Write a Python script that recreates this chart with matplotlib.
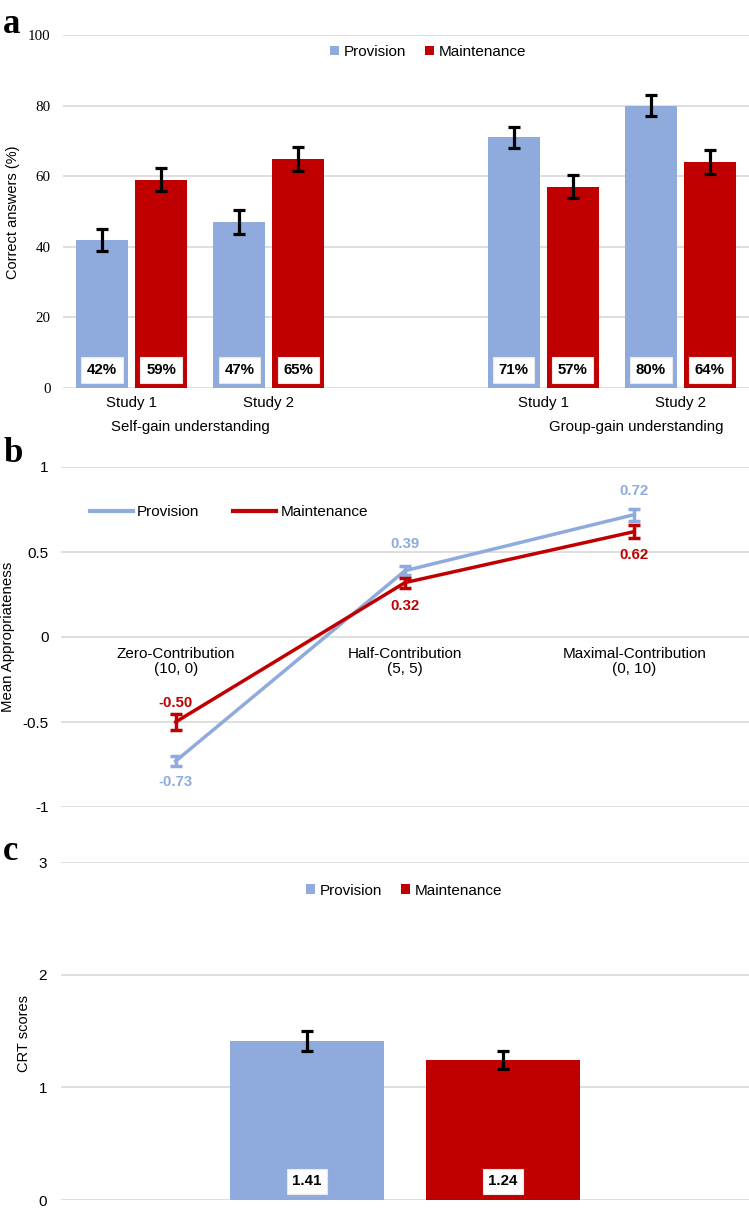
import numpy as np
import matplotlib
matplotlib.use('Agg')
import matplotlib.pyplot as plt
from matplotlib.lines import Line2D
import matplotlib.transforms as mtransforms

plt.rcParams['font.family'] = ['Liberation Sans', 'DejaVu Sans']

BLUE = '#8FAADC'
RED = '#C00000'
GRID = '#D9D9D9'

# ---- datos panel a ----
studies = ['Study 1', 'Study 2', 'Study 1', 'Study 2']
groups = ['Self-gain understanding', 'Group-gain understanding']
prov_a = [42, 47, 71, 80]
maint_a = [59, 65, 57, 64]
prov_a_err = [3.1, 3.5, 3.0, 3.0]
maint_a_err = [3.2, 3.4, 3.2, 3.5]

# ---- datos panel b ----
contrib = ['Zero-Contribution\n(10, 0)', 'Half-Contribution\n(5, 5)',
           'Maximal-Contribution\n(0, 10)']
prov_b = [-0.73, 0.39, 0.72]
maint_b = [-0.50, 0.32, 0.62]
prov_b_err = [0.03, 0.025, 0.035]
maint_b_err = [0.045, 0.03, 0.04]

# ---- datos panel c ----
crt = [1.41, 1.24]
crt_err = [0.09, 0.08]

W, H = 749, 1208
fig = plt.figure(figsize=(W / 100, H / 100), dpi=100)


def px_axes(x0, y0, x1, y1):
    # caja en pixeles (origen arriba-izquierda)
    return fig.add_axes([x0 / W, 1 - y1 / H, (x1 - x0) / W, (y1 - y0) / H])


def style(ax):
    for s in ax.spines.values():
        s.set_visible(False)
    ax.yaxis.grid(True, color=GRID, lw=1.2)
    ax.set_axisbelow(True)
    ax.tick_params(length=0)


box = dict(boxstyle='square,pad=0.38', fc='white', ec='#E8E8E8', lw=0.8)
ekw = dict(elinewidth=2.3, capthick=2.3, ecolor='black')

# =================== panel a ===================
ax_a = px_axes(63, 35, 749, 388)
style(ax_a)
xpos = np.array([0, 1, 3, 4])
w, off = 0.38, 0.215
ax_a.bar(xpos - off, prov_a, w, color=BLUE, yerr=prov_a_err, capsize=4.5,
         error_kw=ekw, label='Provision', zorder=3)
ax_a.bar(xpos + off, maint_a, w, color=RED, yerr=maint_a_err, capsize=4.5,
         error_kw=ekw, label='Maintenance', zorder=3)
for x, v in zip(xpos - off, prov_a):
    ax_a.text(x, 5.1, f'{v}%', ha='center', va='center', fontsize=10.8,
              fontweight='bold', bbox=box, zorder=5)
for x, v in zip(xpos + off, maint_a):
    ax_a.text(x, 5.1, f'{v}%', ha='center', va='center', fontsize=10.8,
              fontweight='bold', bbox=box, zorder=5)
ax_a.set_xlim(-0.5, 4.5)
ax_a.set_ylim(0, 100)
ax_a.set_yticks(range(0, 101, 20))
ax_a.set_yticklabels([str(v) for v in range(0, 101, 20)],
                     family='Liberation Serif', fontsize=10.8)
ax_a.tick_params(axis='y', pad=9)
ax_a.set_xticks(xpos)
ax_a.set_xticklabels(studies, fontsize=10.8)
ax_a.tick_params(axis='x', pad=6)
trans_a = mtransforms.blended_transform_factory(ax_a.transData, ax_a.transAxes)
ax_a.text(0.427, -0.110, groups[0], transform=trans_a, ha='center',
          va='center', fontsize=10.8)
ax_a.text(3.68, -0.110, groups[1], transform=trans_a, ha='center',
          va='center', fontsize=10.8)
ax_a.legend(loc='center', bbox_to_anchor=(0.532, 0.952), ncol=2,
            frameon=False, fontsize=11, handlelength=0.6, handleheight=0.6,
            handletextpad=0.3, columnspacing=1.2)

# =================== panel b ===================
ax_b = px_axes(61, 467, 749, 807)
style(ax_b)
xb = np.arange(3)
ax_b.errorbar(xb, prov_b, yerr=prov_b_err, color=BLUE, lw=2.5, capsize=4,
              capthick=2.5, elinewidth=2.5, zorder=3)
ax_b.errorbar(xb, maint_b, yerr=maint_b_err, color=RED, lw=2.5, capsize=4,
              capthick=2.5, elinewidth=2.5, zorder=4)
ax_b.set_xlim(-0.5, 2.5)
ax_b.set_ylim(-1, 1)
yt = [-1, -0.5, 0, 0.5, 1]
ax_b.set_yticks(yt)
ax_b.set_yticklabels(['-1', '-0.5', '0', '0.5', '1'], fontsize=11)
ax_b.tick_params(axis='y', pad=9)
ax_b.set_xticks([])
for i, c in enumerate(contrib):
    ax_b.annotate(c, (i, 0), xytext=(0, -7), textcoords='offset points',
                  ha='center', va='top', fontsize=11, linespacing=1.15)
for i, (v, dy) in enumerate(zip(prov_b, [-15, 19, 17])):
    ax_b.annotate(f'{v:.2f}', (i, v), xytext=(0, dy), textcoords='offset points',
                  ha='center', va='center', fontsize=10.8, fontweight='bold',
                  color=BLUE)
for i, (v, dy) in enumerate(zip(maint_b, [14, -17, -17])):
    ax_b.annotate(f'{v:.2f}', (i, v), xytext=(0, dy), textcoords='offset points',
                  ha='center', va='center', fontsize=10.8, fontweight='bold',
                  color=RED)
hb = [Line2D([], [], color=BLUE, lw=3), Line2D([], [], color=RED, lw=3)]
ax_b.legend(hb, ['Provision', 'Maintenance'], loc='center',
            bbox_to_anchor=(0.244, 0.868), ncol=2, frameon=False, fontsize=11,
            handlelength=2.8, handletextpad=0.3, columnspacing=2.2)

# =================== panel c ===================
ax_c = px_axes(61, 862, 749, 1200)
style(ax_c)
offc, wc = 0.1425, 0.224
ax_c.bar([-offc], [crt[0]], wc, color=BLUE, yerr=[crt_err[0]], capsize=4.5,
         error_kw=ekw, label='Provision', zorder=3)
ax_c.bar([offc], [crt[1]], wc, color=RED, yerr=[crt_err[1]], capsize=4.5,
         error_kw=ekw, label='Maintenance', zorder=3)
for x, v in zip([-offc, offc], crt):
    ax_c.text(x, 0.165, f'{v:.2f}', ha='center', va='center', fontsize=10.8,
              fontweight='bold', bbox=box, zorder=5)
ax_c.set_xlim(-0.5, 0.5)
ax_c.set_ylim(0, 3)
ax_c.set_yticks([0, 1, 2, 3])
ax_c.set_yticklabels(['0', '1', '2', '3'], fontsize=11)
ax_c.tick_params(axis='y', pad=10)
ax_c.set_xticks([])
ax_c.legend(loc='center', bbox_to_anchor=(0.4985, 0.915), ncol=2,
            frameon=False, fontsize=11, handlelength=0.6, handleheight=0.6,
            handletextpad=0.3, columnspacing=1.2)

# etiquetas de ejes y letras de panel
fig.text(13 / W, 1 - 212 / H, 'Correct answers (%)', rotation=90,
         ha='center', va='center', fontsize=10.5)
fig.text(8 / W, 1 - 637 / H, 'Mean Appropriateness', rotation=90,
         ha='center', va='center', fontsize=10.8)
fig.text(24 / W, 1 - 1033 / H, 'CRT scores', rotation=90,
         ha='center', va='center', fontsize=10.5)
for lab, yb in zip(['a', 'b', 'c'], [33, 462, 860]):
    fig.text(3 / W, 1 - yb / H, lab, fontsize=25, fontweight='bold',
             family='Liberation Serif', ha='left', va='baseline')

fig.savefig('out.png', dpi=100)
